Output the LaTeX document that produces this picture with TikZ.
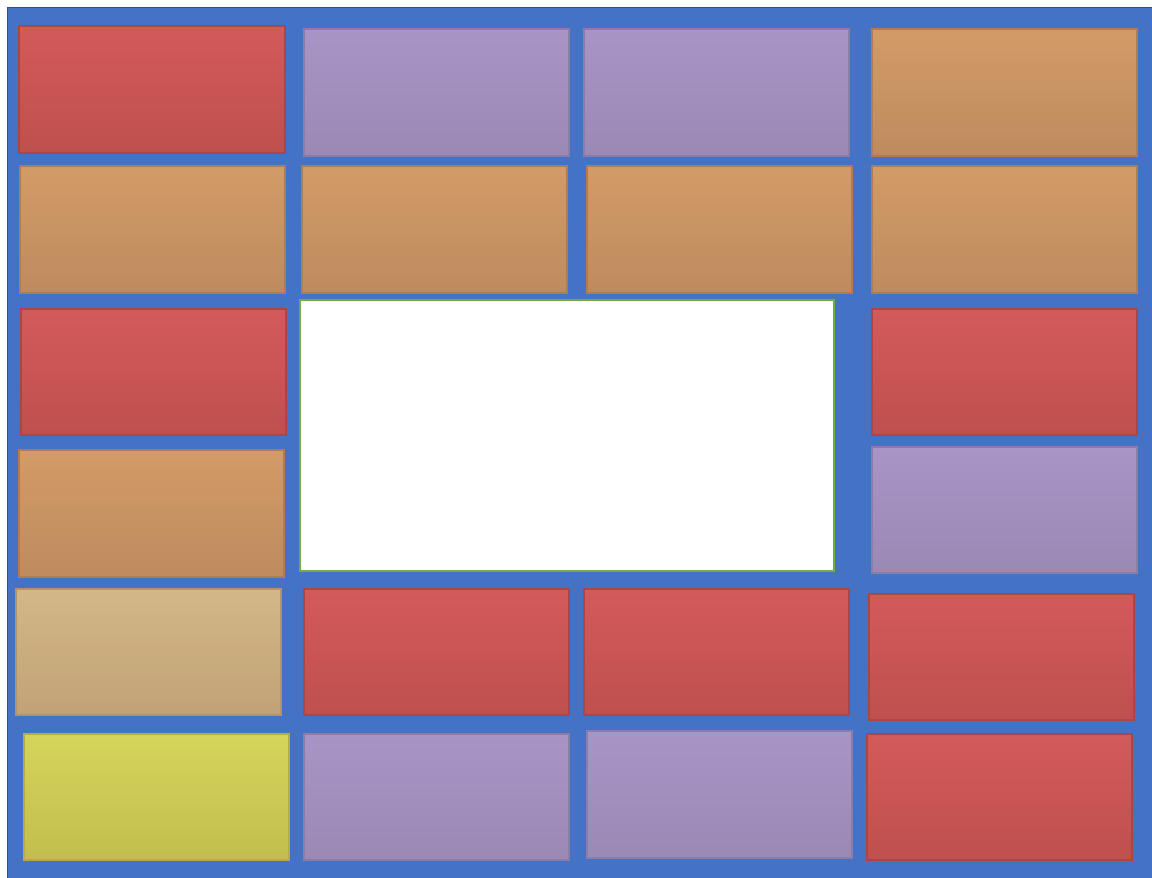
\documentclass[tikz,border=0pt]{standalone}
\usepackage{tikz}
\usetikzlibrary{calc}

\definecolor{bgblue}{HTML}{4472C4}
\definecolor{bgedge}{HTML}{2F528F}

\begin{document}
\begin{tikzpicture}[x=0.02cm,y=-0.02cm,
    redbox/.style={top color={rgb,255:red,211;green,90;blue,90},bottom color={rgb,255:red,190;green,80;blue,78},draw={rgb,255:red,172;green,70;blue,68},line width=0.8pt},
    lilacbox/.style={top color={rgb,255:red,168;green,149;blue,199},bottom color={rgb,255:red,154;green,136;blue,181},draw={rgb,255:red,140;green,124;blue,166},line width=0.8pt},
    ochrebox/.style={top color={rgb,255:red,210;green,155;blue,103},bottom color={rgb,255:red,191;green,139;blue,94},draw={rgb,255:red,176;green,124;blue,82},line width=0.8pt},
    sandbox/.style={top color={rgb,255:red,212;green,183;blue,136},bottom color={rgb,255:red,192;green,162;blue,118},draw={rgb,255:red,178;green,148;blue,106},line width=0.8pt},
    limebox/.style={top color={rgb,255:red,213;green,212;blue,90},bottom color={rgb,255:red,194;green,190;blue,78},draw={rgb,255:red,178;green,174;blue,70},line width=0.8pt}]
  \useasboundingbox (0,0) rectangle (1152,877);
  % background
  \fill[white] (0,0) rectangle (1152,877);
  \draw[fill=bgblue,draw=bgedge,line width=1pt] (7.5,7.5) rectangle (1160,885);
  % row 1
  \shade[redbox] (19,26) rectangle (285,153);
  \shade[lilacbox] (304,29) rectangle (569,156);
  \shade[lilacbox] (584,29) rectangle (849,156);
  \shade[ochrebox] (872,29) rectangle (1137,156);
  % row 2
  \shade[ochrebox] (20,166) rectangle (285,293);
  \shade[ochrebox] (302,166) rectangle (567,293);
  \shade[ochrebox] (587,166) rectangle (852,293);
  \shade[ochrebox] (872,166) rectangle (1137,293);
  % rows 3 and 4
  \shade[redbox] (21,309) rectangle (286,435);
  \draw[fill=white,draw={rgb,255:red,112;green,173;blue,71},line width=1.2pt] (300,300) rectangle (834,571);
  \shade[redbox] (872,309) rectangle (1137,435);
  \shade[ochrebox] (19,450) rectangle (284,577);
  \shade[lilacbox] (872,447) rectangle (1137,573);
  % row 5
  \shade[sandbox] (16,589) rectangle (281,715);
  \shade[redbox] (304,589) rectangle (569,715);
  \shade[redbox] (584,589) rectangle (849,715);
  \shade[redbox] (869,594) rectangle (1134,720);
  % row 6
  \shade[limebox] (24,734) rectangle (289,860);
  \shade[lilacbox] (304,734) rectangle (569,860);
  \shade[lilacbox] (587,731) rectangle (852,858);
  \shade[redbox] (867,734) rectangle (1132,860);
\end{tikzpicture}
\end{document}
